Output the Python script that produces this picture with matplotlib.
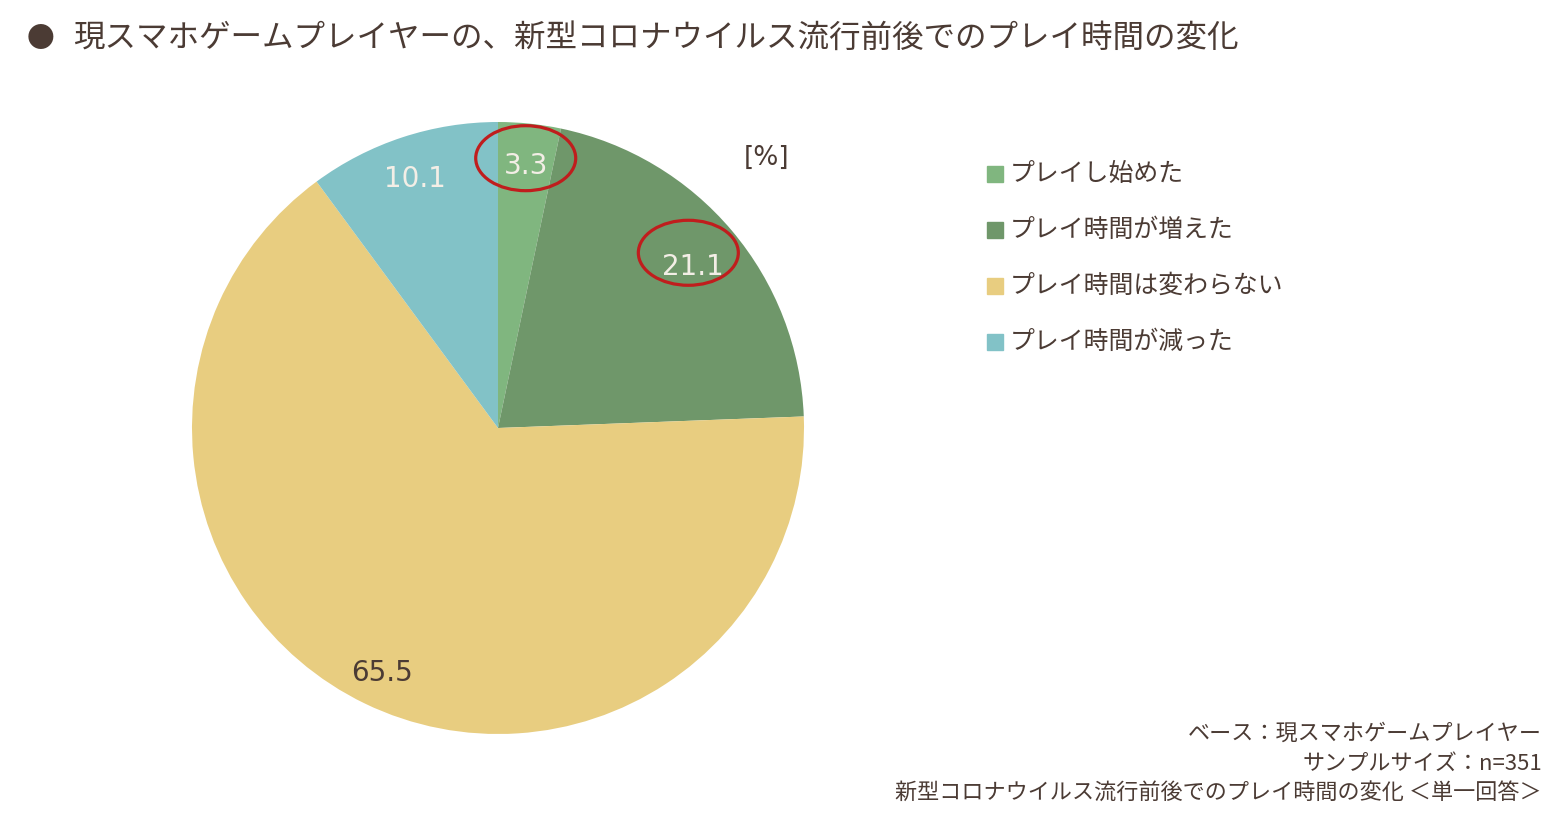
import matplotlib
matplotlib.use("Agg")
import matplotlib.pyplot as plt
from matplotlib.patches import Ellipse
import numpy as np

plt.rcParams['font.family'] = ['Noto Sans CJK JP', 'DejaVu Sans']

# data
categories = ['プレイし始めた', 'プレイ時間が増えた', 'プレイ時間は変わらない', 'プレイ時間が減った']
values = [3.3, 21.1, 65.5, 10.1]
colors = ['#80b67f', '#6f976a', '#e8cd80', '#82c2c7']
label_colors = ['#f3eee6', '#f3eee6', '#4b3b34', '#f3eee6']
label_dist = [0.875, 0.835, 0.875, 0.87]
# red ring offsets from the label, in pixels (None = no ring)
ring_offset = [(0, 3.5), (-5, 10.5), None, None]

title = '現スマホゲームプレイヤーの、新型コロナウイルス流行前後でのプレイ時間の変化'
notes = ['ベース：現スマホゲームプレイヤー',
         'サンプルサイズ：n=351',
         '新型コロナウイルス流行前後でのプレイ時間の変化 ＜単一回答＞']

W, H = 1559, 835
txt = '#4b3b34'
fig = plt.figure(figsize=(W / 100, H / 100), dpi=100)

# pie axes placed in pixel terms: centre (498, 428), radius 306
cx, cy, r = 498, 428, 306
ax = fig.add_axes([(cx - r) / W, (H - cy - r) / H, 2 * r / W, 2 * r / H])
wedges, _ = ax.pie(values, colors=colors, startangle=90, counterclock=False,
                   radius=1, wedgeprops=dict(linewidth=0))
ax.set_xlim(-1, 1)
ax.set_ylim(-1, 1)
ax.set_aspect('equal')
ax.axis('off')

for w, v, c, d, off in zip(wedges, values, label_colors, label_dist, ring_offset):
    ang = np.deg2rad((w.theta1 + w.theta2) / 2)
    x, y = d * np.cos(ang), d * np.sin(ang)
    # va='center' on DejaVu sits a little high, nudge down
    ax.text(x, y - 4 / r, f'{v:.1f}', ha='center', va='center', fontsize=20, color=c,
            family='DejaVu Sans')
    if off is not None:
        ax.add_patch(Ellipse((x + off[0] / r, y + off[1] / r), 100 / r, 65 / r, fill=False,
                             edgecolor='#c01d1d', linewidth=2.3, clip_on=False))

fig.text(767 / W, 1 - 158 / H, '[%]', ha='center', va='center', fontsize=19, color=txt,
         family='DejaVu Sans')

# title
fig.text(41 / W, 1 - 39 / H, '●', ha='center', va='center', fontsize=20, color=txt)
fig.text(73 / W, 1 - 38 / H, title, ha='left', va='center', fontsize=22.7, color=txt)

# legend
for i, (lab, col) in enumerate(zip(categories, colors)):
    yy = 174 + 56 * i
    fig.patches.append(plt.Rectangle((987 / W, 1 - (yy + 8) / H), 16 / W, 16 / H,
                                     transform=fig.transFigure, color=col))
    fig.text(1010 / W, 1 - yy / H, lab, ha='left', va='center', fontsize=17.9, color=txt)

# footnotes
for i, n in enumerate(notes):
    fig.text(1542 / W, 1 - (734 + 30 * i) / H, n, ha='right', va='center',
             fontsize=15.9, color=txt)

fig.savefig('out.png', dpi=100, facecolor='white')
